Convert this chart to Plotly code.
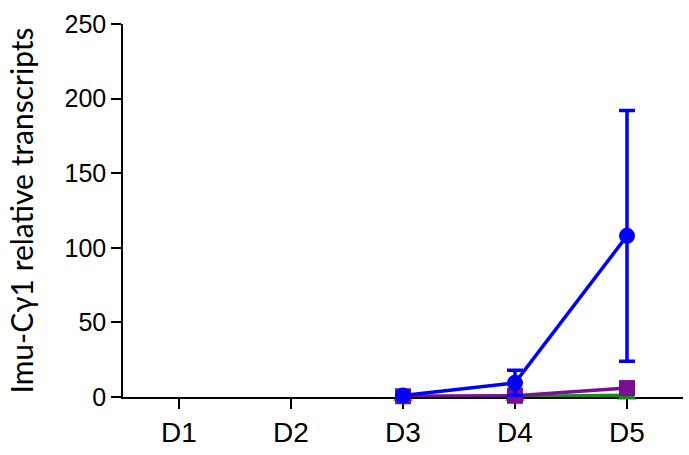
import plotly.graph_objects as go

days = ["D1", "D2", "D3", "D4", "D5"]

# Measured days and group means (relative transcripts)
days_measured = ["D3", "D4", "D5"]
blue_vals = [1.0, 9.5, 108.0]
blue_err = [0.5, 8.5, 84.0]
purple_vals = [0.5, 0.8, 6.0]
green_vals = [0.3, 0.3, 1.2]

y_ticks = [0, 50, 100, 150, 200, 250]

fig = go.Figure()

fig.add_trace(go.Scatter(
    x=days_measured, y=green_vals, mode="lines+markers",
    line=dict(color="#1a8a1a", width=3.5),
    marker=dict(symbol="triangle-up", size=17, color="#1a8a1a"),
    cliponaxis=False, showlegend=False,
))
fig.add_trace(go.Scatter(
    x=days_measured, y=purple_vals, mode="lines+markers",
    line=dict(color="#7a0f96", width=3.5),
    marker=dict(symbol="square", size=16, color="#7a0f96"),
    cliponaxis=False, showlegend=False,
))
fig.add_trace(go.Scatter(
    x=days_measured, y=blue_vals, mode="lines+markers",
    line=dict(color="#0000ff", width=3.5),
    marker=dict(symbol="circle", size=16, color="#0000ff"),
    error_y=dict(type="data", array=blue_err, visible=True,
                 color="#0000ff", thickness=3.5, width=8),
    cliponaxis=False, showlegend=False,
))

fig.update_layout(
    width=689, height=455,
    margin=dict(l=123, r=6, t=24, b=58),
    paper_bgcolor="white", plot_bgcolor="white",
    font=dict(family="Liberation Sans, Arial, sans-serif", size=25, color="black"),
    xaxis=dict(
        type="category", categoryorder="array", categoryarray=days,
        range=[-0.5, 4.5],
        showline=True, linecolor="black", linewidth=1.5,
        ticks="outside", ticklen=10, tickwidth=1.5, tickcolor="black",
        showgrid=False, zeroline=False, layer="below traces",
        tickfont=dict(size=28),
    ),
    yaxis=dict(
        range=[0, 250], tickvals=y_ticks,
        showline=True, linecolor="black", linewidth=1.5,
        ticks="outside", ticklen=10, tickwidth=1.5, tickcolor="black",
        showgrid=False, zeroline=False, layer="below traces",
        tickfont=dict(size=25),
        title=dict(text="Imu-Cγ1 relative transcripts",
                   font=dict(family="Lato, sans-serif", size=30), standoff=22),
    ),
)

fig.write_html("out.html")
